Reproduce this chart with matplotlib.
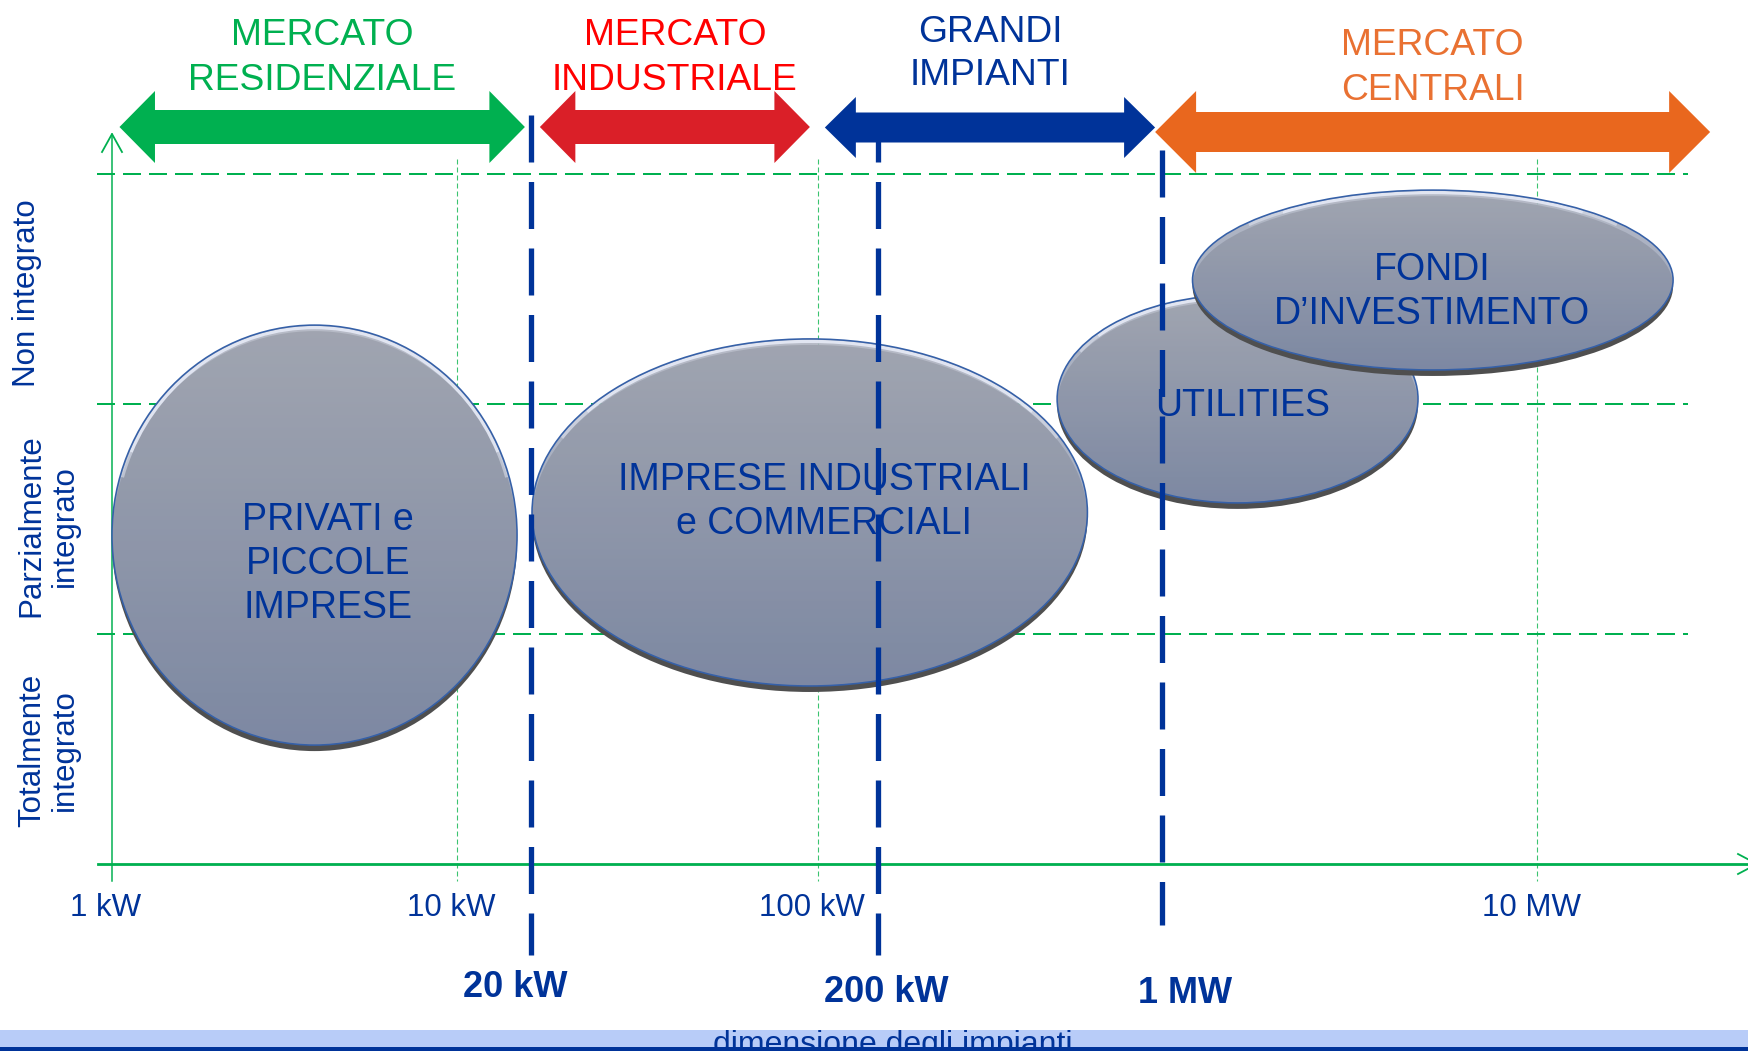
import numpy as np
import matplotlib
matplotlib.use("Agg")
import matplotlib.pyplot as plt
from matplotlib.patches import Ellipse, Arc, Polygon, Rectangle
from matplotlib.colors import LinearSegmentedColormap

plt.rcParams["font.family"] = ["Liberation Sans", "DejaVu Sans"]
plt.rcParams["lines.scale_dashes"] = False

# x is in decades above 1 kW, y is the integration level (0 = x axis)
tick_labels = ["1 kW", "10 kW", "100 kW", "10 MW"]
tick_pos = [0.0, 0.968, 1.982, 4.0]

level_labels = ["Totalmente\nintegrato", "Parzialmente\nintegrato", "Non integrato"]
level_label_y = [0.496, 1.470, 2.483]
level_lines = [1, 2, 3]

segments = ["MERCATO\nRESIDENZIALE", "MERCATO\nINDUSTRIALE", "GRANDI\nIMPIANTI", "MERCATO\nCENTRALI"]
seg_start = [0.021, 1.201, 2.001, 2.928]
seg_end = [1.159, 1.959, 2.928, 4.486]

boundary_labels = ["20 kW", "200 kW", "1 MW"]
boundary_pos = [1.176, 2.150, 2.947]

players = ["PRIVATI e\nPICCOLE\nIMPRESE", "IMPRESE INDUSTRIALI\ne COMMERCIALI",
           "UTILITIES", "FONDI\nD\u2019INVESTIMENTO"]
player_x_lo = [0.0, 1.179, 2.653, 3.033]
player_x_hi = [1.137, 2.738, 3.666, 4.382]
player_y_lo = [0.517, 0.774, 1.570, 2.148]
player_y_hi = [2.343, 2.283, 2.474, 2.930]
player_label_x = [0.606, 1.999, 3.175, 3.705]
player_label_y = [1.317, 1.587, 2.006, 2.500]

axis_title = "dimensione degli impianti"

# ---- layout helpers (pixels of the 1749x1051 figure -> data units)
W, H = 1749, 1051
PXX, PXY = 356.25, 230.0
X0, Y0 = 112, 864


def X(px):
    return (px - X0) / PXX


def Y(px):
    return (Y0 - px) / PXY


PT = 0.72  # points per pixel at dpi 100
GREEN = "#00B050"
BLUE = "#003399"

fig = plt.figure(figsize=(W / 100, H / 100), dpi=100)
ax = fig.add_axes([0, 0, 1, 1])
ax.axis("off")

# grid: horizontal level lines
for lv in level_lines:
    ax.plot([X(96.5), X(1688)], [lv, lv], color=GREEN, lw=2 * PT,
            dashes=(18 * PT, 8 * PT), zorder=1.5)
# vertical decade lines
for p in tick_pos[1:]:
    ax.plot([p, p], [Y(159), Y(881)], color="#3CC470", lw=1.1 * PT,
            dashes=(5 * PT, 3 * PT), zorder=1.4)

# axes with open arrow heads
ax.plot([0, 0], [Y(881), Y(134)], color=GREEN, lw=1.5 * PT, zorder=1.6)
ax.plot([X(102), 0, X(122)], [Y(152), Y(134), Y(152)], color=GREEN, lw=1.8 * PT, zorder=1.6)
ax.plot([X(98), X(1757)], [0, 0], color=GREEN, lw=2.8 * PT, zorder=1.6)
ax.plot([X(1738), X(1757), X(1738)], [Y(854), Y(864), Y(874)], color=GREEN, lw=1.8 * PT,
        zorder=1.6)

for p, lab in zip(tick_pos, tick_labels):
    ax.text(p - 6 / PXX, Y(916), lab, ha="center", va="baseline", fontsize=22.5, color=BLUE)

# level labels on the left
for y, lab in zip(level_label_y, level_labels):
    xpx = 48.5 if "\n" in lab else 27
    ax.text(X(xpx), y, lab, rotation=90, ha="center", va="center", fontsize=22.5,
            color=BLUE, linespacing=1.15)

# players: gradient ellipses with shadow and rim highlight
cmap = LinearSegmentedColormap.from_list("bubble", ["#ADB2BF", "#8491AF"])
grad = np.linspace(0, 1, 256).reshape(-1, 1)
for i, name in enumerate(players):
    x0, x1 = player_x_lo[i], player_x_hi[i]
    y0, y1 = player_y_lo[i], player_y_hi[i]
    cx, cy = (x0 + x1) / 2, (y0 + y1) / 2
    w, h = x1 - x0, y1 - y0
    z = 2 + i * 0.1
    ax.add_patch(Ellipse((cx, cy - 6 / PXY), w, h, fc="#4F4F4F", ec="none", zorder=z))
    body = Ellipse((cx, cy), w, h, fc="none", ec="#3560A8", lw=1.6 * PT, zorder=z + 0.03)
    ax.add_patch(body)
    im = ax.imshow(grad, extent=(x0, x1, y0, y1), origin="upper", cmap=cmap,
                   aspect="auto", alpha=0.88, zorder=z + 0.01, interpolation="bilinear")
    im.set_clip_path(body)
    # rim highlight, fading towards the sides
    for t1, t2, al in [(35, 145, 0.9), (25, 35, 0.5), (145, 155, 0.5)]:
        ax.add_patch(Arc((cx, cy), w - 5 / PXX, h - 5 / PXY, theta1=t1, theta2=t2,
                         color="#E6EAF6", lw=3.2 * PT, alpha=al, zorder=z + 0.02))
    lines = name.split("\n")
    n = len(lines)
    for j, line in enumerate(lines):
        off = (j - (n - 1) / 2) * 44 + 13
        ax.text(player_label_x[i], player_label_y[i] - off / PXY, line, ha="center",
                va="baseline", fontsize=27, color=BLUE, zorder=3)

# boundaries between market segments
b_top = [115, 115, 150]
b_bot = [955, 955, 925]
lab_dx = [-16, 8, 23]
lab_base = [997, 1002, 1003]
for k, p in enumerate(boundary_pos):
    ax.plot([p, p], [Y(b_top[k]), Y(b_bot[k])], color=BLUE, lw=5.3 * PT,
            dashes=(47 * PT, 19.5 * PT), zorder=6)
    ax.text(p + lab_dx[k] / PXX, Y(lab_base[k]), boundary_labels[k], ha="center",
            va="baseline", fontsize=26, fontweight="bold", color=BLUE)

# market segment arrows
arrow_colors = [GREEN, "#DA1F28", BLUE, "#E9671E"]
text_colors = ["#00B050", "#FF0000", BLUE, "#E97132"]
arr_yc = [127, 127, 127.5, 132]
arr_shaft = [17, 17, 15, 20]
arr_head = [36, 36, 30.5, 41]
arr_hlen = [35.5, 35.5, 31, 41]
head_base = [[45, 90], [45, 90], [42, 85], [55, 100]]
for i, seg in enumerate(segments):
    a, b = seg_start[i], seg_end[i]
    yc = Y(arr_yc[i])
    hl = arr_hlen[i] / PXX
    hh = arr_head[i] / PXY
    sh = arr_shaft[i] / PXY
    pts = [(a, yc), (a + hl, yc + hh), (a + hl, yc + sh), (b - hl, yc + sh),
           (b - hl, yc + hh), (b, yc), (b - hl, yc - hh), (b - hl, yc - sh),
           (a + hl, yc - sh), (a + hl, yc - hh)]
    ax.add_patch(Polygon(pts, closed=True, fc=arrow_colors[i], ec="none", zorder=7))
    for j, line in enumerate(seg.split("\n")):
        ax.text((a + b) / 2, Y(head_base[i][j]), line, ha="center", va="baseline",
                fontsize=26.8, color=text_colors[i], zorder=8)

# bottom band with the axis title, cut by the dark bar as in the original slide
ax.add_patch(Rectangle((X(0), Y(1047)), X(W) - X(0), Y(1030) - Y(1047), fc="#B8CCF8",
                       ec="none", zorder=8))
ax.text(X(893), Y(1053), axis_title, ha="center", va="baseline", fontsize=23, color=BLUE,
        zorder=8.5, clip_on=False)
ax.add_patch(Rectangle((X(0), Y(1060)), X(W) - X(0), Y(1047) - Y(1060), fc=BLUE,
                       ec="none", zorder=9))

ax.set_xlim(X(0), X(W))
ax.set_ylim(Y(H), Y(0))

fig.savefig("out.png", dpi=100)
